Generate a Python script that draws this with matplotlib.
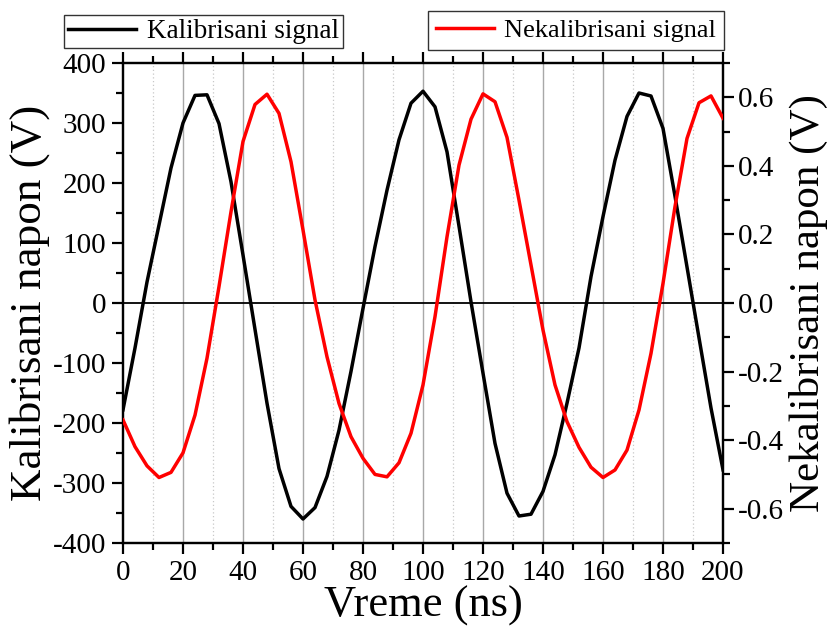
import matplotlib.pyplot as plt
from matplotlib.ticker import MultipleLocator

plt.rcParams['font.family'] = ['Liberation Serif', 'DejaVu Serif']

# vreme u ns, uzorak na svake 4 ns
vreme = [0, 4, 8, 12, 16, 20, 24, 28, 32, 36, 40, 44, 48, 52, 56, 60, 64, 68,
         72, 76, 80, 84, 88, 92, 96, 100, 104, 108, 112, 116, 120, 124, 128,
         132, 136, 140, 144, 148, 152, 156, 160, 164, 168, 172, 176, 180, 184,
         188, 192, 196, 200]

# kalibrisani signal (V)
kalibrisani = [-178, -75, 35, 130, 225, 300, 346, 347, 299, 202, 80, -44, -167,
               -276, -339, -360, -341, -289, -212, -114, -9, 94, 188, 272, 333,
               353, 327, 252, 128, 2, -117, -234, -317, -355, -352, -314, -253,
               -167, -75, 44, 144, 238, 311, 350, 345, 291, 178, 60, -58, -175,
               -278]

# nekalibrisani signal (V)
nekalibrisani = [-0.341, -0.419, -0.475, -0.509, -0.494, -0.437, -0.327, -0.161,
                 0.048, 0.266, 0.471, 0.579, 0.609, 0.553, 0.412, 0.213, 0.009,
                 -0.157, -0.293, -0.390, -0.453, -0.500, -0.507, -0.466, -0.380,
                 -0.239, -0.040, 0.193, 0.402, 0.536, 0.610, 0.587, 0.483, 0.300,
                 0.111, -0.079, -0.239, -0.346, -0.421, -0.479, -0.509, -0.487,
                 -0.429, -0.312, -0.147, 0.057, 0.281, 0.480, 0.584, 0.604,
                 0.539]

fig = plt.figure(figsize=(8.35, 6.35), dpi=100)
ax = fig.add_axes([123/835, 1 - 543/635, 600/835, 480/635])
ax2 = ax.twinx()

# mreza po x osi
for x in range(20, 200, 20):
    ax.axvline(x, color='#a8a8a8', lw=1.0, zorder=0)
for x in range(10, 200, 20):
    ax.axvline(x, color='#c8c8c8', lw=0.9, ls=(0, (1, 2)), zorder=0)
ax.axhline(0, color='black', lw=1.3, zorder=1)

l1, = ax.plot(vreme, kalibrisani, color='black', lw=2.5, label='Kalibrisani signal', zorder=3)
l2, = ax2.plot(vreme, nekalibrisani, color='#ff0000', lw=2.5, label='Nekalibrisani signal', zorder=3)

ax.set_xlim(0, 200)
ax.set_ylim(-400, 400)
ax2.set_ylim(-0.7, 0.7)

ax.xaxis.set_major_locator(MultipleLocator(20))
ax.xaxis.set_minor_locator(MultipleLocator(10))
ax.yaxis.set_minor_locator(MultipleLocator(50))
ax2.yaxis.set_minor_locator(MultipleLocator(0.1))
ax2.set_yticks([-0.6, -0.4, -0.2, 0.0, 0.2, 0.4, 0.6])
ax2.set_yticklabels(['-0.6', '-0.4', '-0.2', '0.0', '0.2', '0.4', '0.6'])
ax.set_yticks(range(-400, 401, 100))
ax.set_yticklabels([str(v) for v in range(-400, 401, 100)])

for a in (ax, ax2):
    for s in a.spines.values():
        s.set_linewidth(1.6)
ax.tick_params(axis='both', which='major', direction='out', length=8, width=1.6,
               labelsize=21, top=True, right=False, pad=4)
ax.tick_params(axis='both', which='minor', direction='out', length=5, width=1.6,
               top=True, right=False)
ax2.tick_params(axis='y', which='major', direction='out', length=8, width=1.6,
                labelsize=21, pad=3)
ax2.tick_params(axis='y', which='minor', direction='out', length=5, width=1.6)

ax.set_xlabel('Vreme (ns)', fontsize=32, labelpad=0)
ax.set_ylabel('Kalibrisani napon (V)', fontsize=32.5, labelpad=2)
ax2.set_ylabel('Nekalibrisani napon (V)', fontsize=31, labelpad=3)

leg1 = fig.legend(handles=[l1], loc='upper left', bbox_to_anchor=(64/835, 1 - 15/635),
                  fontsize=19.5, frameon=True, fancybox=False, edgecolor='black',
                  borderpad=0.15, handlelength=2.5, handletextpad=0.4, borderaxespad=0)
leg1.get_frame().set_linewidth(1.0)
leg2 = fig.legend(handles=[l2], loc='upper right', bbox_to_anchor=(724/835, 1 - 11/635),
                  fontsize=19, frameon=True, fancybox=False, edgecolor='black',
                  borderpad=0.3, handlelength=2.2, handletextpad=0.4, borderaxespad=0)
leg2.get_frame().set_linewidth(1.0)

fig.savefig('out.png', dpi=100)
